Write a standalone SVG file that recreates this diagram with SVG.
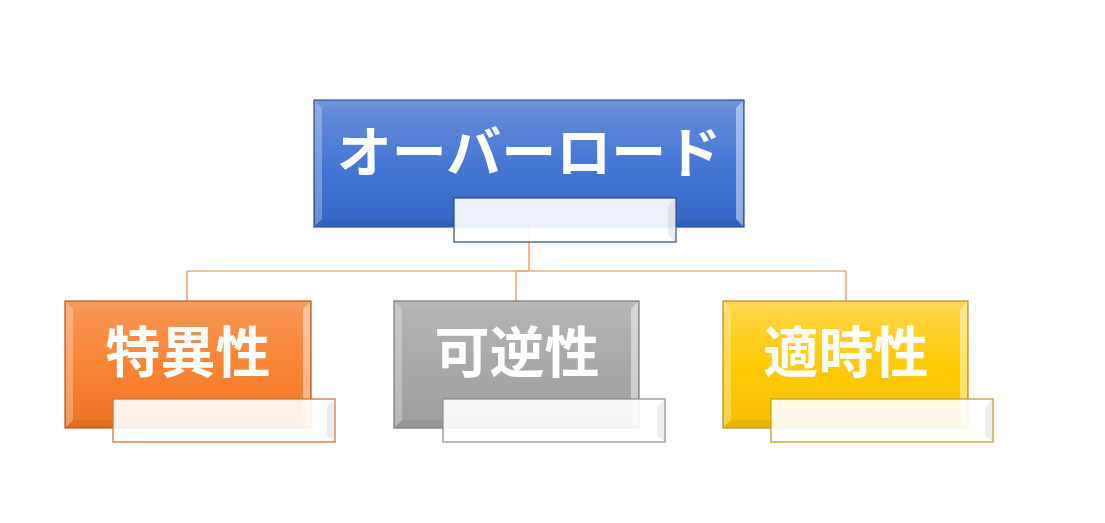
<svg xmlns="http://www.w3.org/2000/svg" width="1105" height="523" viewBox="0 0 1105 523">
<defs>
<linearGradient id="gBlue" x1="0" y1="0" x2="0" y2="1"><stop offset="0" stop-color="#6B8FD9"/><stop offset="0.5" stop-color="#4676D4"/><stop offset="1" stop-color="#3566C6"/></linearGradient>
<linearGradient id="gOrange" x1="0" y1="0" x2="0" y2="1"><stop offset="0" stop-color="#F8965A"/><stop offset="0.5" stop-color="#F88534"/><stop offset="1" stop-color="#EC7324"/></linearGradient>
<linearGradient id="gGray" x1="0" y1="0" x2="0" y2="1"><stop offset="0" stop-color="#B6B6B6"/><stop offset="0.5" stop-color="#A9A9A9"/><stop offset="1" stop-color="#9E9E9E"/></linearGradient>
<linearGradient id="gYellow" x1="0" y1="0" x2="0" y2="1"><stop offset="0" stop-color="#FFD54E"/><stop offset="0.5" stop-color="#FFCB08"/><stop offset="1" stop-color="#F2BE00"/></linearGradient>
</defs>
<style>
.lbl{font-family:"Noto Sans CJK JP","Noto Sans CJK SC",sans-serif;font-weight:bold;font-size:55px;fill:#FFFFFF;text-anchor:middle}
.hl{fill:#FFFFFF;opacity:0.28}
.hr{fill:#FFFFFF;opacity:0.45}
.ht{fill:#FFFFFF;opacity:0.05}
.hb{fill:#000000;opacity:0.05}
.sub{fill:#FFFFFF;fill-opacity:0.9;stroke-width:1.2}
.subr{fill:#000000;opacity:0.07}
.conn{fill:none;stroke:#F4A26C;stroke-width:1.6}
.connh{fill:none;stroke:#F8C09A;stroke-width:2.2}
</style>
<g id="connectors">
<line class="conn" x1="529" y1="227" x2="529" y2="271"/>
<line class="connh" x1="187" y1="271" x2="846" y2="271"/>
<line class="conn" x1="516" y1="271" x2="529" y2="271"/>
<line class="conn" x1="187" y1="271" x2="187" y2="301"/>
<line class="conn" x1="516" y1="271" x2="516" y2="301"/>
<line class="conn" x1="846" y1="271" x2="846" y2="301"/>
</g>
<g id="node-overload">
<rect x="314" y="100" width="430" height="127" fill="url(#gBlue)" stroke="#2F528F" stroke-width="1.2"/>
<polygon class="hl" points="315,101 322,108 322,219 315,226"/>
<polygon class="hr" points="743,101 736,108 736,219 743,226"/>
<polygon class="ht" points="315,101 743,101 736,108 322,108"/>
<polygon class="hb" points="315,226 743,226 736,219 322,219"/>
<text class="lbl" x="529" y="172">オーバーロード</text>
<rect class="sub" x="454" y="198" width="222" height="44" stroke="#2F4A7F"/>
<polygon class="subr" points="675,199 668,206 668,235 675,241"/>
</g>
<g id="node-specificity">
<rect x="65" y="301" width="246" height="127" fill="url(#gOrange)" stroke="#B35A1F" stroke-width="1.2"/>
<polygon class="hl" points="66,302 73,309 73,420 66,427"/>
<polygon class="hr" points="310,302 303,309 303,420 310,427"/>
<polygon class="ht" points="66,302 310,302 303,309 73,309"/>
<polygon class="hb" points="66,427 310,427 303,420 73,420"/>
<text class="lbl" x="188" y="372">特異性</text>
<rect class="sub" x="113" y="399" width="222" height="43" stroke="#C4702F"/>
<polygon class="subr" points="334,400 327,407 327,435 334,441"/>
</g>
<g id="node-reversibility">
<rect x="394" y="301" width="245" height="127" fill="url(#gGray)" stroke="#7A7A7A" stroke-width="1.2"/>
<polygon class="hl" points="395,302 402,309 402,420 395,427"/>
<polygon class="hr" points="638,302 631,309 631,420 638,427"/>
<polygon class="ht" points="395,302 638,302 631,309 402,309"/>
<polygon class="hb" points="395,427 638,427 631,420 402,420"/>
<text class="lbl" x="517" y="372">可逆性</text>
<rect class="sub" x="443" y="399" width="222" height="43" stroke="#8A8A8A"/>
<polygon class="subr" points="664,400 657,407 657,435 664,441"/>
</g>
<g id="node-timeliness">
<rect x="723" y="301" width="245" height="127" fill="url(#gYellow)" stroke="#B8901A" stroke-width="1.2"/>
<polygon class="hl" points="724,302 731,309 731,420 724,427"/>
<polygon class="hr" points="967,302 960,309 960,420 967,427"/>
<polygon class="ht" points="724,302 967,302 960,309 731,309"/>
<polygon class="hb" points="724,427 967,427 960,420 731,420"/>
<text class="lbl" x="846" y="372">適時性</text>
<rect class="sub" x="771" y="399" width="222" height="43" stroke="#BF9A10"/>
<polygon class="subr" points="992,400 985,407 985,435 992,441"/>
</g>
</svg>
